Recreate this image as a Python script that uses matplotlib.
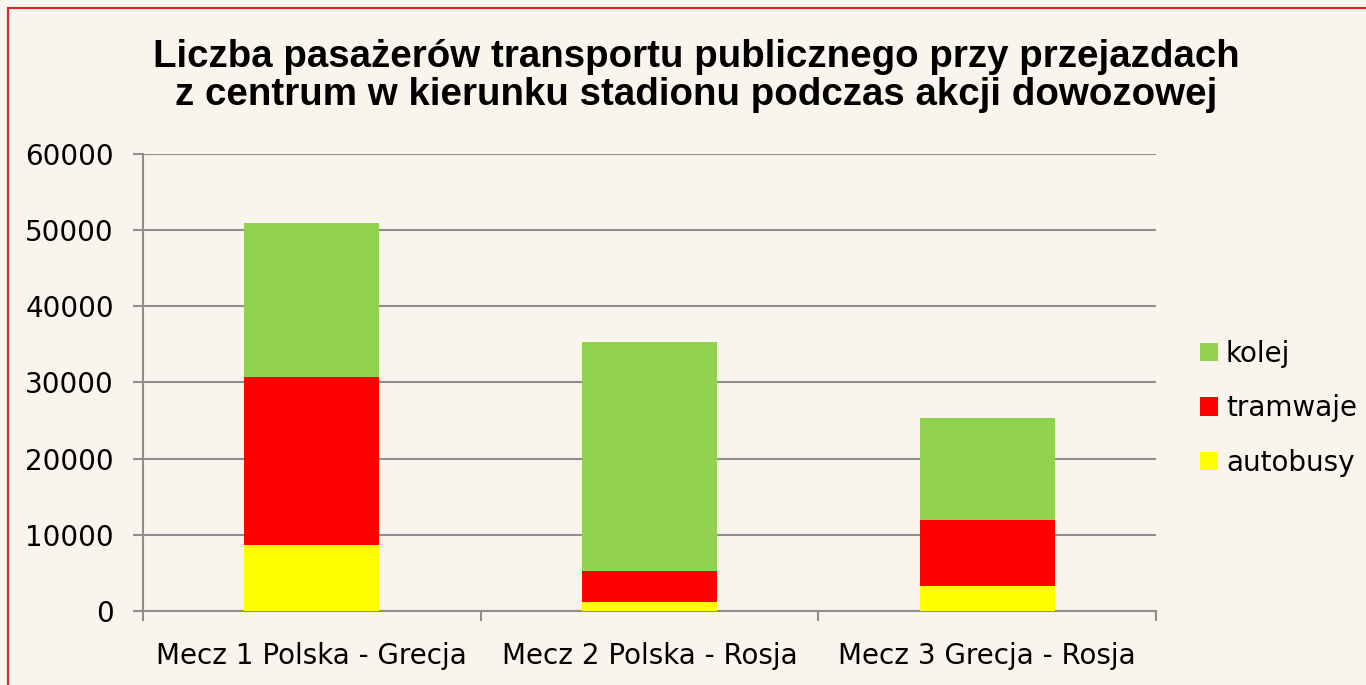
import matplotlib.pyplot as plt
from matplotlib.patches import Rectangle
import numpy as np

mecze = ["Mecz 1 Polska - Grecja", "Mecz 2 Polska - Rosja", "Mecz 3 Grecja - Rosja"]
autobusy = [8700, 1130, 3270]
tramwaje = [22000, 4150, 8700]
kolej = [20170, 30070, 13380]

bg = "#f9f5ed"
plt.rcParams['font.family'] = 'DejaVu Sans'

fig = plt.figure(figsize=(13.66, 6.85), dpi=100, facecolor=bg)
ax = fig.add_axes([0.1047, 0.108, 0.7416, 0.6676])
ax.set_facecolor(bg)

x = np.arange(len(mecze))
w = 0.4
b1 = ax.bar(x, autobusy, w, color="#ffff00", label="autobusy", zorder=3)
b2 = ax.bar(x, tramwaje, w, bottom=autobusy, color="#ff0000", label="tramwaje", zorder=3)
bottom2 = np.array(autobusy) + np.array(tramwaje)
b3 = ax.bar(x, kolej, w, bottom=bottom2, color="#92d050", label="kolej", zorder=3)

ax.set_xlim(-0.5, 2.5)
ax.set_ylim(0, 60000)
ax.set_yticks(range(0, 60001, 10000))
ax.yaxis.grid(True, color="#8e8e8e", linewidth=1.5, zorder=0)
for s in ["top", "right"]:
    ax.spines[s].set_visible(False)
for s in ["left", "bottom"]:
    ax.spines[s].set_color("#8e8e8e")
    ax.spines[s].set_linewidth(1.5)

ax.set_xticks(x)
ax.set_xticklabels(mecze)
ax.set_xticks([-0.5, 0.5, 1.5, 2.5], minor=True)
ax.tick_params(axis="x", which="major", length=0, pad=22, labelsize=20)
ax.tick_params(axis="x", which="minor", length=7, width=1.5, color="#8e8e8e")
ax.tick_params(axis="y", length=7, width=1.5, color="#8e8e8e", pad=14, labelsize=20)

fig.text(0.5095, 0.889, "Liczba pasażerów transportu publicznego przy przejazdach\nz centrum w kierunku stadionu podczas akcji dowozowej",
         ha="center", va="center", fontsize=27.7, fontweight="bold",
         family="Liberation Sans", linespacing=1.1)

ax.legend([b3, b2, b1], ["kolej", "tramwaje", "autobusy"],
          loc="center left", bbox_to_anchor=(0.87, 0.404), bbox_transform=fig.transFigure,
          frameon=False, fontsize=20, handlelength=0.65, handleheight=0.65,
          handletextpad=0.3, labelspacing=0.95, borderaxespad=0)

fig.patches.append(Rectangle((8 / 1366, -0.1), 1.2, (685 - 8) / 685 + 0.1,
                             transform=fig.transFigure, fill=False,
                             edgecolor="#d9262b", linewidth=1.5))

fig.savefig("out.png", dpi=100, facecolor=bg)
